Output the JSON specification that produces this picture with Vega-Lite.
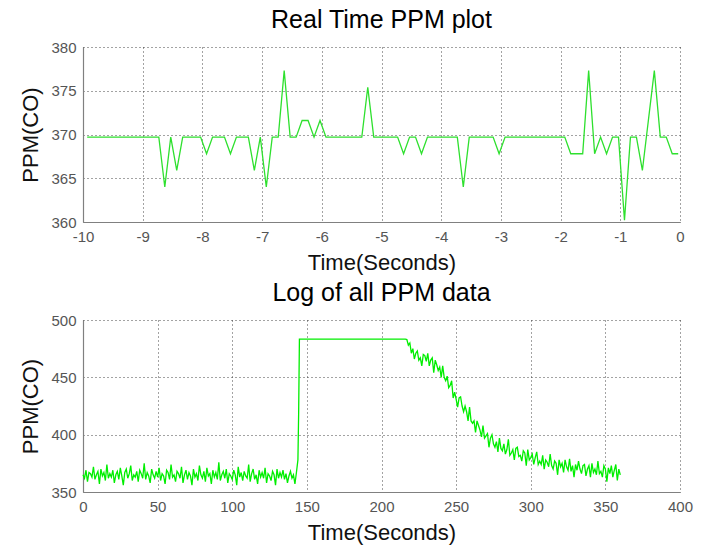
{
  "$schema": "https://vega.github.io/schema/vega-lite/v6.json",
  "background": "white",
  "padding": {"left": 19, "top": 8, "right": 11, "bottom": 5},
  "spacing": 8,
  "config": {
    "font": "Liberation Sans",
    "view": {"stroke": null},
    "title": {"fontSize": 25, "fontWeight": "normal", "color": "#000000", "offset": 7},
    "axis": {
      "grid": true, "gridColor": "#333333", "gridDash": [1, 3], "gridWidth": 1, "gridOpacity": 0.9,
      "domainColor": "#808080", "domainWidth": 1.2, "ticks": false,
      "labelFontSize": 15, "labelColor": "#555555", "labelPadding": 7, "labelFlush": false,
      "titleFontSize": 22, "titleFontWeight": "normal", "titleColor": "#111111", "titlePadding": 8,
      "labelExpr": "'' + datum.value"
    }
  },
  "datasets": {
    "rt": [
      {"t": -9.93, "ppm": 369.7}, {"t": -9.83, "ppm": 369.7}, {"t": -9.73, "ppm": 369.7}, {"t": -9.63, "ppm": 369.7},
      {"t": -9.53, "ppm": 369.7}, {"t": -9.43, "ppm": 369.7}, {"t": -9.33, "ppm": 369.7}, {"t": -9.23, "ppm": 369.7},
      {"t": -9.13, "ppm": 369.7}, {"t": -9.03, "ppm": 369.7}, {"t": -8.93, "ppm": 369.7}, {"t": -8.83, "ppm": 369.7},
      {"t": -8.73, "ppm": 369.7}, {"t": -8.63, "ppm": 364.0}, {"t": -8.53, "ppm": 369.7}, {"t": -8.43, "ppm": 365.9},
      {"t": -8.33, "ppm": 369.7}, {"t": -8.23, "ppm": 369.7}, {"t": -8.13, "ppm": 369.7}, {"t": -8.03, "ppm": 369.7},
      {"t": -7.93, "ppm": 367.8}, {"t": -7.83, "ppm": 369.7}, {"t": -7.73, "ppm": 369.7}, {"t": -7.63, "ppm": 369.7},
      {"t": -7.53, "ppm": 367.8}, {"t": -7.43, "ppm": 369.7}, {"t": -7.33, "ppm": 369.7}, {"t": -7.23, "ppm": 369.7},
      {"t": -7.13, "ppm": 365.9}, {"t": -7.03, "ppm": 369.7}, {"t": -6.93, "ppm": 364.0}, {"t": -6.83, "ppm": 369.7},
      {"t": -6.73, "ppm": 369.7}, {"t": -6.63, "ppm": 377.3}, {"t": -6.53, "ppm": 369.7}, {"t": -6.43, "ppm": 369.7},
      {"t": -6.33, "ppm": 371.6}, {"t": -6.23, "ppm": 371.6}, {"t": -6.13, "ppm": 369.7}, {"t": -6.03, "ppm": 371.6},
      {"t": -5.93, "ppm": 369.7}, {"t": -5.83, "ppm": 369.7}, {"t": -5.73, "ppm": 369.7}, {"t": -5.63, "ppm": 369.7},
      {"t": -5.53, "ppm": 369.7}, {"t": -5.43, "ppm": 369.7}, {"t": -5.33, "ppm": 369.7}, {"t": -5.23, "ppm": 375.4},
      {"t": -5.13, "ppm": 369.7}, {"t": -5.03, "ppm": 369.7}, {"t": -4.93, "ppm": 369.7}, {"t": -4.83, "ppm": 369.7},
      {"t": -4.73, "ppm": 369.7}, {"t": -4.63, "ppm": 367.8}, {"t": -4.53, "ppm": 369.7}, {"t": -4.43, "ppm": 369.7},
      {"t": -4.33, "ppm": 367.8}, {"t": -4.23, "ppm": 369.7}, {"t": -4.13, "ppm": 369.7}, {"t": -4.03, "ppm": 369.7},
      {"t": -3.93, "ppm": 369.7}, {"t": -3.83, "ppm": 369.7}, {"t": -3.73, "ppm": 369.7}, {"t": -3.63, "ppm": 364.0},
      {"t": -3.53, "ppm": 369.7}, {"t": -3.43, "ppm": 369.7}, {"t": -3.33, "ppm": 369.7}, {"t": -3.23, "ppm": 369.7},
      {"t": -3.13, "ppm": 369.7}, {"t": -3.03, "ppm": 367.8}, {"t": -2.93, "ppm": 369.7}, {"t": -2.83, "ppm": 369.7},
      {"t": -2.73, "ppm": 369.7}, {"t": -2.63, "ppm": 369.7}, {"t": -2.53, "ppm": 369.7}, {"t": -2.43, "ppm": 369.7},
      {"t": -2.33, "ppm": 369.7}, {"t": -2.23, "ppm": 369.7}, {"t": -2.13, "ppm": 369.7}, {"t": -2.03, "ppm": 369.7},
      {"t": -1.93, "ppm": 369.7}, {"t": -1.83, "ppm": 367.8}, {"t": -1.73, "ppm": 367.8}, {"t": -1.63, "ppm": 367.8},
      {"t": -1.53, "ppm": 377.3}, {"t": -1.43, "ppm": 367.8}, {"t": -1.33, "ppm": 369.7}, {"t": -1.23, "ppm": 367.8},
      {"t": -1.13, "ppm": 369.7}, {"t": -1.03, "ppm": 369.7}, {"t": -0.93, "ppm": 360.2}, {"t": -0.83, "ppm": 369.7},
      {"t": -0.73, "ppm": 369.7}, {"t": -0.63, "ppm": 365.9}, {"t": -0.53, "ppm": 371.6}, {"t": -0.43, "ppm": 377.3},
      {"t": -0.33, "ppm": 369.7}, {"t": -0.23, "ppm": 369.7}, {"t": -0.13, "ppm": 367.8}, {"t": -0.03, "ppm": 367.8}
    ],
    "log": [
      {"t":0,"ppm":365},{"t":1,"ppm":362},{"t":2,"ppm":369},{"t":3,"ppm":359},{"t":4,"ppm":367},{"t":5,"ppm":366},{"t":6,"ppm":363},{"t":7,"ppm":372},{"t":8,"ppm":361},{"t":9,"ppm":365},
      {"t":10,"ppm":368},{"t":11,"ppm":357},{"t":12,"ppm":370},{"t":13,"ppm":364},{"t":14,"ppm":367},{"t":15,"ppm":360},{"t":16,"ppm":374},{"t":17,"ppm":362},{"t":18,"ppm":366},{"t":19,"ppm":363},
      {"t":20,"ppm":369},{"t":21,"ppm":358},{"t":22,"ppm":365},{"t":23,"ppm":368},{"t":24,"ppm":361},{"t":25,"ppm":371},{"t":26,"ppm":364},{"t":27,"ppm":356},{"t":28,"ppm":367},{"t":29,"ppm":370},
      {"t":30,"ppm":362},{"t":31,"ppm":366},{"t":32,"ppm":373},{"t":33,"ppm":360},{"t":34,"ppm":365},{"t":35,"ppm":363},{"t":36,"ppm":368},{"t":37,"ppm":359},{"t":38,"ppm":369},{"t":39,"ppm":366},
      {"t":40,"ppm":362},{"t":41,"ppm":375},{"t":42,"ppm":361},{"t":43,"ppm":367},{"t":44,"ppm":364},{"t":45,"ppm":358},{"t":46,"ppm":370},{"t":47,"ppm":365},{"t":48,"ppm":362},{"t":49,"ppm":368},
      {"t":50,"ppm":363},{"t":51,"ppm":371},{"t":52,"ppm":360},{"t":53,"ppm":366},{"t":54,"ppm":364},{"t":55,"ppm":357},{"t":56,"ppm":369},{"t":57,"ppm":367},{"t":58,"ppm":361},{"t":59,"ppm":374},
      {"t":60,"ppm":363},{"t":61,"ppm":365},{"t":62,"ppm":359},{"t":63,"ppm":368},{"t":64,"ppm":366},{"t":65,"ppm":362},{"t":66,"ppm":372},{"t":67,"ppm":358},{"t":68,"ppm":365},{"t":69,"ppm":369},
      {"t":70,"ppm":361},{"t":71,"ppm":367},{"t":72,"ppm":364},{"t":73,"ppm":356},{"t":74,"ppm":370},{"t":75,"ppm":363},{"t":76,"ppm":366},{"t":77,"ppm":360},{"t":78,"ppm":373},{"t":79,"ppm":365},
      {"t":80,"ppm":362},{"t":81,"ppm":368},{"t":82,"ppm":359},{"t":83,"ppm":371},{"t":84,"ppm":364},{"t":85,"ppm":366},{"t":86,"ppm":357},{"t":87,"ppm":369},{"t":88,"ppm":363},{"t":89,"ppm":367},
      {"t":90,"ppm":361},{"t":91,"ppm":376},{"t":92,"ppm":360},{"t":93,"ppm":365},{"t":94,"ppm":368},{"t":95,"ppm":362},{"t":96,"ppm":370},{"t":97,"ppm":358},{"t":98,"ppm":366},{"t":99,"ppm":364},
      {"t":100,"ppm":361},{"t":101,"ppm":369},{"t":102,"ppm":365},{"t":103,"ppm":356},{"t":104,"ppm":372},{"t":105,"ppm":363},{"t":106,"ppm":367},{"t":107,"ppm":360},{"t":108,"ppm":368},{"t":109,"ppm":364},
      {"t":110,"ppm":362},{"t":111,"ppm":374},{"t":112,"ppm":359},{"t":113,"ppm":366},{"t":114,"ppm":370},{"t":115,"ppm":361},{"t":116,"ppm":365},{"t":117,"ppm":357},{"t":118,"ppm":369},{"t":119,"ppm":363},
      {"t":120,"ppm":367},{"t":121,"ppm":362},{"t":122,"ppm":371},{"t":123,"ppm":358},{"t":124,"ppm":366},{"t":125,"ppm":364},{"t":126,"ppm":360},{"t":127,"ppm":368},{"t":128,"ppm":365},{"t":129,"ppm":356},
      {"t":130,"ppm":370},{"t":131,"ppm":362},{"t":132,"ppm":367},{"t":133,"ppm":363},{"t":134,"ppm":369},{"t":135,"ppm":361},{"t":136,"ppm":366},{"t":137,"ppm":358},{"t":138,"ppm":364},{"t":139,"ppm":368},
      {"t":140,"ppm":362},{"t":141,"ppm":365},{"t":142,"ppm":357},{"t":143,"ppm":367},{"t":144,"ppm":378},{"t":144.5,"ppm":420},{"t":145,"ppm":483.3},{"t":216,"ppm":483.3},
      {"t":217,"ppm":483},{"t":218,"ppm":478},{"t":219,"ppm":480},{"t":220,"ppm":471},{"t":221,"ppm":475},{"t":222,"ppm":466},{"t":223,"ppm":471},{"t":224,"ppm":473},{"t":225,"ppm":465},{"t":226,"ppm":467},
      {"t":227,"ppm":460},{"t":228,"ppm":470},{"t":229,"ppm":469},{"t":230,"ppm":464},{"t":231,"ppm":471},{"t":232,"ppm":460},{"t":233,"ppm":465},{"t":234,"ppm":467},{"t":235,"ppm":454},{"t":236,"ppm":465},
      {"t":237,"ppm":461},{"t":238,"ppm":456},{"t":239,"ppm":459},{"t":240,"ppm":450},{"t":241,"ppm":460},{"t":242,"ppm":450},{"t":243,"ppm":447},{"t":244,"ppm":451},{"t":245,"ppm":441},{"t":246,"ppm":443},
      {"t":247,"ppm":447},{"t":248,"ppm":432},{"t":249,"ppm":437},{"t":250,"ppm":431},{"t":251,"ppm":424},{"t":252,"ppm":432},{"t":253,"ppm":433},{"t":254,"ppm":425},{"t":255,"ppm":420},{"t":256,"ppm":425},
      {"t":257,"ppm":420},{"t":258,"ppm":412},{"t":259,"ppm":424},{"t":260,"ppm":412},{"t":261,"ppm":410},{"t":262,"ppm":412},{"t":263,"ppm":402},{"t":264,"ppm":412},{"t":265,"ppm":408},{"t":266,"ppm":404},
      {"t":267,"ppm":398},{"t":268,"ppm":408},{"t":269,"ppm":397},{"t":270,"ppm":399},{"t":271,"ppm":401},{"t":272,"ppm":389},{"t":273,"ppm":397},{"t":274,"ppm":400},{"t":275,"ppm":392},{"t":276,"ppm":389},
      {"t":277,"ppm":394},{"t":278,"ppm":385},{"t":279,"ppm":397},{"t":280,"ppm":388},{"t":281,"ppm":386},{"t":282,"ppm":392},{"t":283,"ppm":383},{"t":284,"ppm":387},{"t":285,"ppm":396},{"t":286,"ppm":382},
      {"t":287,"ppm":384},{"t":288,"ppm":387},{"t":289,"ppm":378},{"t":290,"ppm":388},{"t":291,"ppm":389},{"t":292,"ppm":381},{"t":293,"ppm":382},{"t":294,"ppm":377},{"t":295,"ppm":386},{"t":296,"ppm":384},
      {"t":297,"ppm":373},{"t":298,"ppm":387},{"t":299,"ppm":378},{"t":300,"ppm":380},{"t":301,"ppm":383},{"t":302,"ppm":374},{"t":303,"ppm":380},{"t":304,"ppm":385},{"t":305,"ppm":374},{"t":306,"ppm":377},
      {"t":307,"ppm":374},{"t":308,"ppm":382},{"t":309,"ppm":370},{"t":310,"ppm":378},{"t":311,"ppm":376},{"t":312,"ppm":372},{"t":313,"ppm":383},{"t":314,"ppm":373},{"t":315,"ppm":370},{"t":316,"ppm":377},
      {"t":317,"ppm":375},{"t":318,"ppm":365},{"t":319,"ppm":378},{"t":320,"ppm":372},{"t":321,"ppm":375},{"t":322,"ppm":367},{"t":323,"ppm":378},{"t":324,"ppm":372},{"t":325,"ppm":369},{"t":326,"ppm":379},
      {"t":327,"ppm":368},{"t":328,"ppm":373},{"t":329,"ppm":363},{"t":330,"ppm":374},{"t":331,"ppm":369},{"t":332,"ppm":377},{"t":333,"ppm":370},{"t":334,"ppm":366},{"t":335,"ppm":373},{"t":336,"ppm":374},
      {"t":337,"ppm":364},{"t":338,"ppm":370},{"t":339,"ppm":373},{"t":340,"ppm":363},{"t":341,"ppm":375},{"t":342,"ppm":367},{"t":343,"ppm":370},{"t":344,"ppm":365},{"t":345,"ppm":377},{"t":346,"ppm":366},
      {"t":347,"ppm":368},{"t":348,"ppm":363},{"t":349,"ppm":373},{"t":350,"ppm":370},{"t":351,"ppm":359},{"t":352,"ppm":371},{"t":353,"ppm":366},{"t":354,"ppm":373},{"t":355,"ppm":363},{"t":356,"ppm":369},
      {"t":357,"ppm":374},{"t":358,"ppm":360},{"t":359,"ppm":370},{"t":360,"ppm":365}
    ]
  },
  "vconcat": [
    {
      "width": 597,
      "height": 175,
      "title": "Real Time PPM plot",
      "data": {"name": "rt"},
      "mark": {"type": "line", "color": "#2ee02e", "strokeWidth": 1.3},
      "encoding": {
        "x": {"field": "t", "type": "quantitative", "scale": {"domain": [-10, 0], "nice": false},
              "axis": {"values": [-10, -9, -8, -7, -6, -5, -4, -3, -2, -1, 0], "title": "Time(Seconds)"}},
        "y": {"field": "ppm", "type": "quantitative", "scale": {"domain": [360, 380], "zero": false, "nice": false},
              "axis": {"values": [360, 365, 370, 375, 380], "title": "PPM(CO)"}}
      }
    },
    {
      "width": 597,
      "height": 172,
      "title": "Log of all PPM data",
      "data": {"name": "log"},
      "mark": {"type": "line", "color": "#00ee00", "strokeWidth": 1.3},
      "encoding": {
        "x": {"field": "t", "type": "quantitative", "scale": {"domain": [0, 400], "nice": false},
              "axis": {"values": [0, 50, 100, 150, 200, 250, 300, 350, 400], "title": "Time(Seconds)"}},
        "y": {"field": "ppm", "type": "quantitative", "scale": {"domain": [350, 500], "zero": false, "nice": false},
              "axis": {"values": [350, 400, 450, 500], "title": "PPM(CO)"}}
      }
    }
  ]
}
